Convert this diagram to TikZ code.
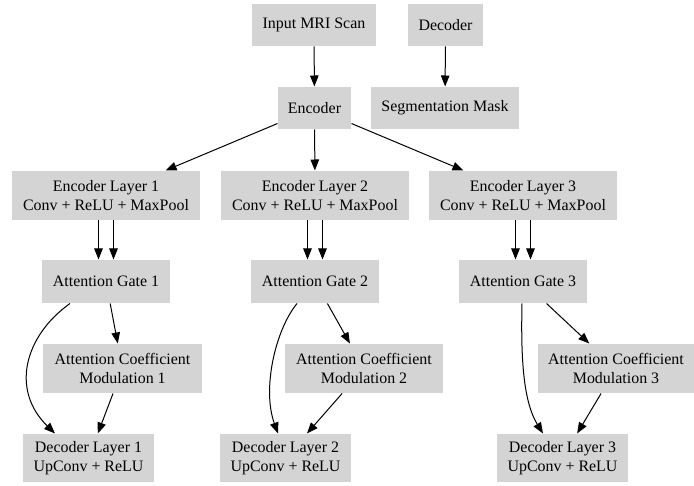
\documentclass[tikz,border=0pt]{standalone}
\usepackage{fontspec}
\setmainfont{Liberation Serif}
\usetikzlibrary{arrows.meta}
\begin{document}
\begin{tikzpicture}[x=1bp,y=-1bp,line width=1bp,>={Triangle[length=11bp,width=8.5bp]},
  block/.style={fill=black!17,inner sep=0pt,align=center,font=\fontsize{16}{19}\selectfont}]
\newcommand{\mkbox}[6]{\node[block,minimum width=#4bp,minimum height=#5bp] (#1) at (#2,#3) {#6};}
\useasboundingbox (0,0) rectangle (694,486);

\mkbox{inp}{314}{25}{124}{42}{Input MRI Scan}
\mkbox{dec}{445.5}{25}{75}{42}{Decoder}
\mkbox{enc}{314.5}{108}{73}{42}{Encoder}
\mkbox{seg}{445}{108}{148}{42}{Segmentation Mask}

\mkbox{el1}{106}{195.5}{188}{49}{Encoder Layer 1\\Conv + ReLU + MaxPool}
\mkbox{el2}{315}{195.5}{188}{49}{Encoder Layer 2\\Conv + ReLU + MaxPool}
\mkbox{el3}{523}{195.5}{188}{49}{Encoder Layer 3\\Conv + ReLU + MaxPool}

\mkbox{ag1}{106}{281.5}{128}{43}{Attention Gate 1}
\mkbox{ag2}{315}{281.5}{128}{43}{Attention Gate 2}
\mkbox{ag3}{523}{281.5}{128}{43}{Attention Gate 3}

\mkbox{acm1}{122.5}{368.5}{159}{49}{Attention Coefficient\\Modulation 1}
\mkbox{acm2}{364}{368.5}{158}{49}{Attention Coefficient\\Modulation 2}
\mkbox{acm3}{616}{368.5}{156}{49}{Attention Coefficient\\Modulation 3}

\mkbox{dl1}{88.5}{458}{131}{48}{Decoder Layer 1\\UpConv + ReLU}
\mkbox{dl2}{285.5}{458}{131}{48}{Decoder Layer 2\\UpConv + ReLU}
\mkbox{dl3}{562.5}{458}{131}{48}{Decoder Layer 3\\UpConv + ReLU}

\draw[->] (inp) -- (enc);
\draw[->] (dec) -- (seg);
\draw[->] (enc) -- (el1);
\draw[->] (enc) -- (el2);
\draw[->] (enc) -- (el3);

\foreach \i in {1,2,3} {
  \draw[->] ([xshift=-7.5bp]el\i.south) -- ([xshift=-7.5bp]ag\i.north);
  \draw[->] ([xshift=7.5bp]el\i.south) -- ([xshift=7.5bp]ag\i.north);
  \draw[->] (ag\i) -- (acm\i);
  \draw[->] (acm\i) -- (dl\i);
}

% skip connections gate -> decoder
\draw[->] ([xshift=-36bp]ag1.south) .. controls +(-45,32) and +(-45,-44) .. ([xshift=-33.5bp]dl1.north);
\draw[->] ([xshift=-18bp]ag2.south) .. controls +(-22,27) and +(-16,-44) .. ([xshift=-7.5bp]dl2.north);
\draw[->] ([xshift=-1bp]ag3.south) .. controls +(-1,47) and +(-21,-34) .. ([xshift=-19.5bp]dl3.north);
\end{tikzpicture}
\end{document}
